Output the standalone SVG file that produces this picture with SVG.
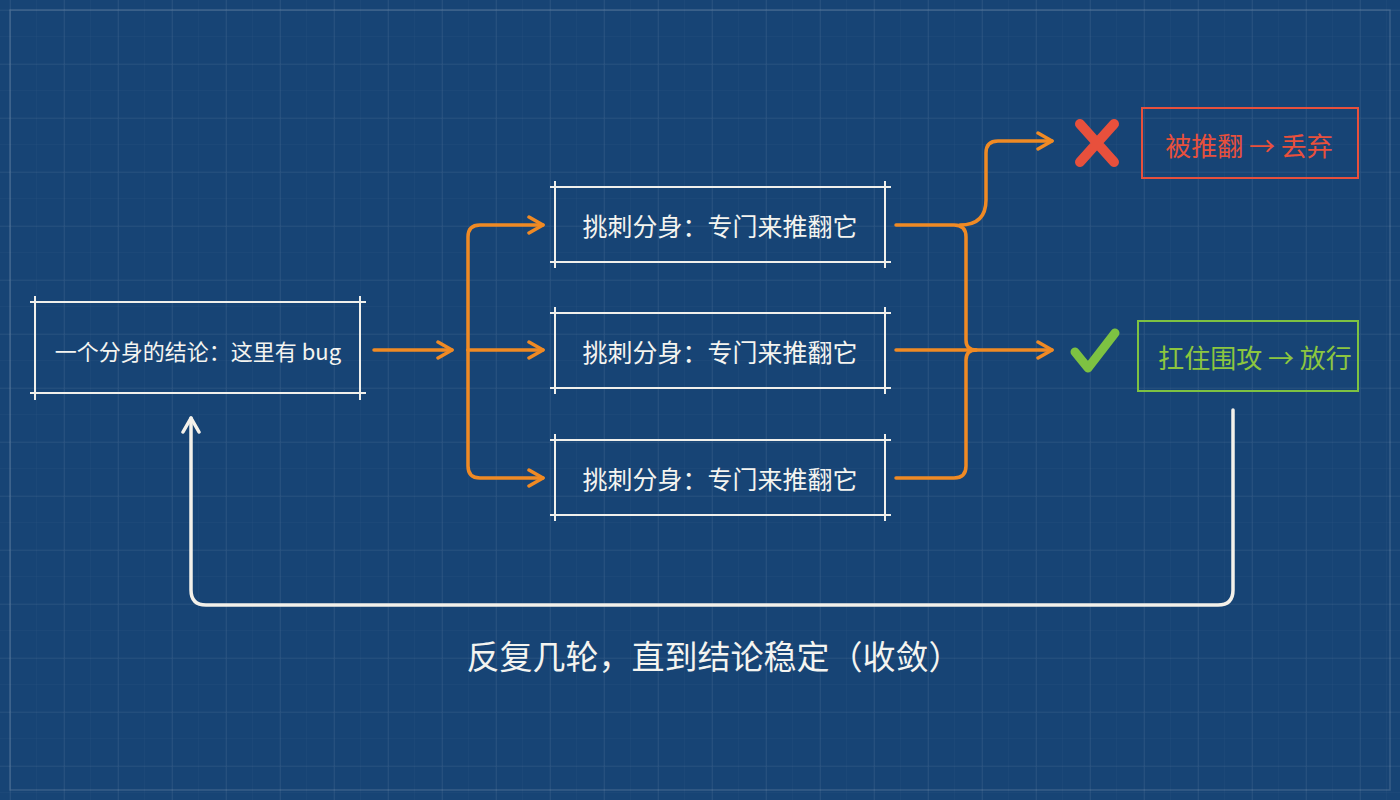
<svg xmlns="http://www.w3.org/2000/svg" width="1400" height="800" viewBox="0 0 1400 800">
<defs>
<pattern id="minor" x="10" y="10" width="27" height="27" patternUnits="userSpaceOnUse">
<path d="M27 0V27M0 27H27" fill="none" stroke="#ffffff" stroke-opacity="0.035" stroke-width="1"/>
</pattern>
<pattern id="major" x="10" y="10" width="54" height="54" patternUnits="userSpaceOnUse">
<path d="M0 0V54M0 0H54" fill="none" stroke="#ffffff" stroke-opacity="0.1" stroke-width="1.2"/>
</pattern>
<marker id="ao" viewBox="0 0 20 20" refX="18" refY="10" markerWidth="20" markerHeight="20" markerUnits="userSpaceOnUse" orient="auto">
<path d="M4 2L18 10L4 18" fill="none" stroke="#f08a24" stroke-width="3.5" stroke-linecap="round" stroke-linejoin="round"/>
</marker>
<marker id="aw" viewBox="0 0 20 20" refX="18" refY="10" markerWidth="20" markerHeight="20" markerUnits="userSpaceOnUse" orient="auto">
<path d="M4 2L18 10L4 18" fill="none" stroke="#f4f1ea" stroke-width="3.5" stroke-linecap="round" stroke-linejoin="round"/>
</marker>
</defs>
<style>
.t{font-family:"Noto Sans CJK SC","Noto Sans",sans-serif;text-anchor:middle;dominant-baseline:central;font-weight:400}
.w{fill:#f4f4f0}
.bl{stroke:#f0f0ec;stroke-width:2;fill:none}
.o{fill:none;stroke:#f08a24;stroke-width:3.5;stroke-linecap:round;stroke-linejoin:round}
</style>
<rect width="1400" height="800" fill="#174475"/>
<rect width="1400" height="800" fill="url(#minor)"/>
<rect width="1400" height="800" fill="url(#major)"/>
<rect x="10" y="10" width="1380" height="780" fill="none" stroke="#ffffff" stroke-opacity="0.14" stroke-width="1.5"/>

<g id="node-claim">
<path class="bl" d="M30 302H366M30 393H366M35 296V400M360 296V400"/>
<text class="t w" x="198" y="350" font-size="22">一个分身的结论：这里有 bug</text>
</g>
<g id="node-critic1">
<path class="bl" d="M550 187H891M550 262H891M555 181V268M885 181V268"/>
<text class="t w" x="720" y="225" font-size="25">挑刺分身：专门来推翻它</text>
</g>
<g id="node-critic2">
<path class="bl" d="M550 313H891M550 388H891M555 307V394M885 307V394"/>
<text class="t w" x="720" y="351" font-size="25">挑刺分身：专门来推翻它</text>
</g>
<g id="node-critic3">
<path class="bl" d="M550 440H891M550 515H891M555 434V521M885 434V521"/>
<text class="t w" x="720" y="478" font-size="25">挑刺分身：专门来推翻它</text>
</g>
<g id="node-reject">
<path d="M1080 124L1114 162M1114 124L1080 162" stroke="#e8503c" stroke-width="10" stroke-linecap="round"/>
<rect x="1142" y="108" width="216" height="70" fill="none" stroke="#e8503c" stroke-width="2"/>
<text class="t" x="1249" y="144" font-size="26" fill="#e8503c">被推翻 → 丢弃</text>
</g>
<g id="node-accept">
<path d="M1075 352L1088 368L1115 333" fill="none" stroke="#7dc242" stroke-width="9" stroke-linecap="round" stroke-linejoin="round"/>
<rect x="1138" y="321" width="220" height="70" fill="none" stroke="#7dc242" stroke-width="2"/>
<text class="t" x="1255" y="356" font-size="26" fill="#8cc63f">扛住围攻 → 放行</text>
</g>
<g id="caption">
<text class="t w" x="714" y="655" font-size="33">反复几轮，直到结论稳定（收敛）</text>
</g>

<g id="connectors">
<path class="o" d="M374 350H452" marker-end="url(#ao)"/>
<path class="o" d="M468 350V237Q468 225 480 225H543" marker-end="url(#ao)"/>
<path class="o" d="M468 350V466Q468 478 480 478H543" marker-end="url(#ao)"/>
<path class="o" d="M468 350H543" marker-end="url(#ao)"/>
<path class="o" d="M896 225H954Q966 225 966 237V340Q966 350 976 350"/>
<path class="o" d="M896 478H954Q966 478 966 466V360Q966 350 976 350"/>
<path class="o" d="M896 350H1052" marker-end="url(#ao)"/>
<path class="o" d="M960 225Q986 225 986 200V153Q986 141 998 141H1052" marker-end="url(#ao)"/>
<path d="M1233 410V590Q1233 605 1218 605H206Q191 605 191 590V418" fill="none" stroke="#f4f1ea" stroke-width="3.5" stroke-linecap="round" marker-end="url(#aw)"/>
</g>
</svg>
